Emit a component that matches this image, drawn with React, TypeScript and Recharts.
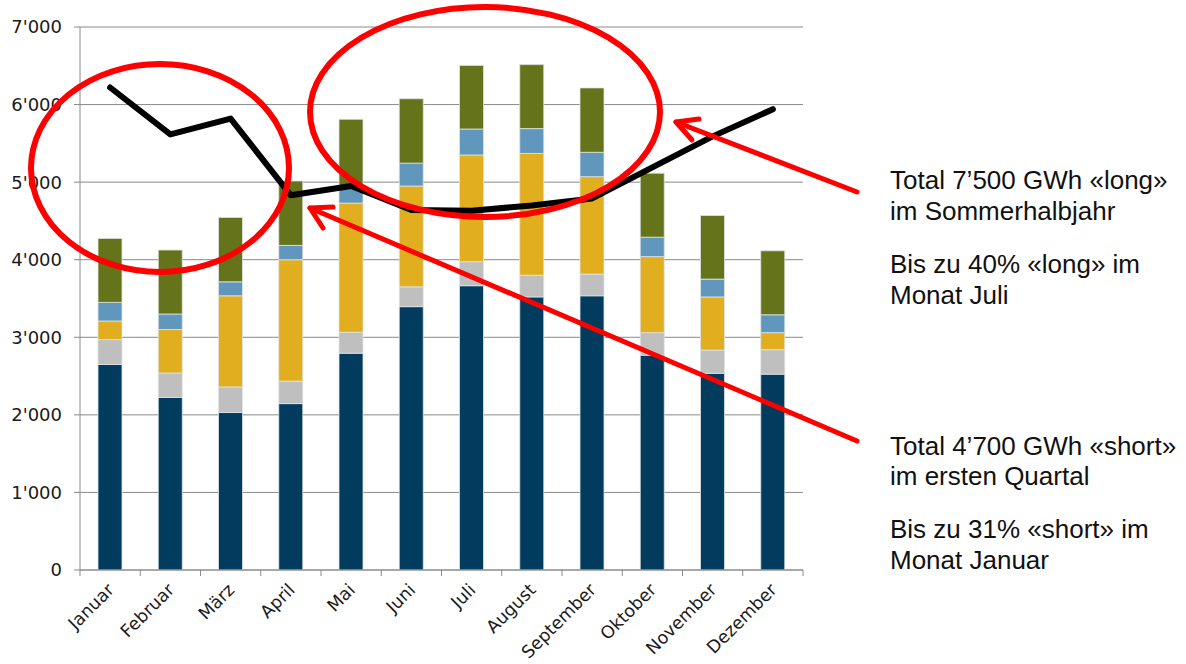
import React from "react";
import { ComposedChart, Bar, Line, XAxis, YAxis, CartesianGrid } from "recharts";

// ---- data ----
const months = ["Januar", "Februar", "März", "April", "Mai", "Juni", "Juli", "August", "September", "Oktober", "November", "Dezember"];
const serieNavy = [2650, 2225, 2030, 2145, 2795, 3395, 3665, 3520, 3535, 2770, 2535, 2525];
const serieGrau = [320, 315, 330, 290, 270, 255, 310, 280, 280, 290, 300, 315];
const serieGold = [240, 560, 1175, 1565, 1665, 1300, 1375, 1570, 1255, 980, 685, 220];
const serieBlau = [240, 200, 180, 185, 200, 295, 335, 320, 315, 250, 230, 230];
const serieGruen = [825, 825, 830, 830, 880, 830, 820, 825, 830, 825, 820, 825];
const verbrauch = [6220, 5615, 5820, 4830, 4950, 4640, 4630, 4700, 4790, 5190, 5590, 5940];

const yTicks = [0, 1000, 2000, 3000, 4000, 5000, 6000, 7000];
const yTickLabels = ["0", "1'000", "2'000", "3'000", "4'000", "5'000", "6'000", "7'000"];

const noteLong = ["Total 7\u2019500 GWh \u00ablong\u00bb", "im Sommerhalbjahr", "Bis zu 40% \u00ablong\u00bb im", "Monat Juli"];
const noteShort = ["Total 4\u2019700 GWh \u00abshort\u00bb", "im ersten Quartal", "Bis zu 31% \u00abshort\u00bb im", "Monat Januar"];

const data = months.map((m, i) => ({
  month: m,
  navy: serieNavy[i],
  grau: serieGrau[i],
  gold: serieGold[i],
  blau: serieBlau[i],
  gruen: serieGruen[i],
  verbrauch: verbrauch[i],
}));

// ---- layout ----
const W = 1186;
const H = 664;
const PLOT_LEFT = 80;
const PLOT_RIGHT = 803;
const PLOT_TOP = 27;
const AXIS_Y = 570;
const BAND = (PLOT_RIGHT - PLOT_LEFT) / months.length;
const GRID = "#8a8a8a";
const RED = "#ff0000";

const MonthTick = (props: any) => {
  const { x, payload, index } = props;
  const half = BAND / 2;
  const ax = x + 5;
  const ay = AXIS_Y + 21;
  return (
    <g>
      <line x1={x - half} y1={AXIS_Y} x2={x - half} y2={AXIS_Y + 6} stroke={GRID} strokeWidth={1} />
      {index === months.length - 1 && (
        <line x1={x + half} y1={AXIS_Y} x2={x + half} y2={AXIS_Y + 6} stroke={GRID} strokeWidth={1} />
      )}
      <text
        x={ax}
        y={ay}
        transform={`rotate(-45, ${ax}, ${ay})`}
        textAnchor="end"
        fontFamily="DejaVu Sans"
        fontSize={17.5}
        fill="#1a1a1a"
      >
        {payload.value}
      </text>
    </g>
  );
};

const barStroke = "#dfe3e6";

export default function App() {
  return (
    <div style={{ position: "absolute", left: 0, top: 0, width: W, height: H, background: "#fff" }}>
      <ComposedChart
        width={W}
        height={H}
        data={data}
        margin={{ top: PLOT_TOP, right: W - PLOT_RIGHT, bottom: 0, left: 0 }}
      >
        <CartesianGrid vertical={false} stroke={GRID} strokeWidth={1} />
        <XAxis
          dataKey="month"
          interval={0}
          tickLine={false}
          tickSize={0}
          tickMargin={0}
          axisLine={{ stroke: GRID, strokeWidth: 1 }}
          tick={<MonthTick />}
          height={H - AXIS_Y}
        />
        <YAxis
          width={PLOT_LEFT}
          domain={[0, 7000]}
          ticks={yTicks}
          interval={0}
          tickFormatter={(v: number) => yTickLabels[yTicks.indexOf(v)]}
          axisLine={{ stroke: GRID, strokeWidth: 1 }}
          tickLine={{ stroke: GRID, strokeWidth: 1 }}
          tickSize={6}
          tickMargin={12}
          tick={{ fontFamily: "DejaVu Sans", fontSize: 18, fill: "#1a1a1a" }}
        />
        <Bar dataKey="navy" stackId="a" fill="#013c5e" stroke={barStroke} strokeWidth={0.8} barSize={24} isAnimationActive={false} />
        <Bar dataKey="grau" stackId="a" fill="#bfbfbf" stroke={barStroke} strokeWidth={0.8} barSize={24} isAnimationActive={false} />
        <Bar dataKey="gold" stackId="a" fill="#e1ae20" stroke={barStroke} strokeWidth={0.8} barSize={24} isAnimationActive={false} />
        <Bar dataKey="blau" stackId="a" fill="#6197bc" stroke={barStroke} strokeWidth={0.8} barSize={24} isAnimationActive={false} />
        <Bar dataKey="gruen" stackId="a" fill="#65731b" stroke={barStroke} strokeWidth={0.8} barSize={24} isAnimationActive={false} />
        <Line
          dataKey="verbrauch"
          type="linear"
          stroke="#000"
          strokeWidth={6}
          dot={false}
          activeDot={false}
          strokeLinecap="round"
          strokeLinejoin="round"
          isAnimationActive={false}
        />
      </ComposedChart>
      <svg
        width={W}
        height={H}
        style={{ position: "absolute", left: 0, top: 0, pointerEvents: "none" }}
      >
        <ellipse cx={160} cy={168} rx={129} ry={104} fill="none" stroke={RED} strokeWidth={6} />
        <ellipse cx={485} cy={112} rx={175} ry={105} fill="none" stroke={RED} strokeWidth={6} />
        <g stroke={RED} strokeWidth={5} fill="none" strokeLinecap="round" strokeLinejoin="round">
          <line x1={857} y1={192} x2={676} y2={122} />
          <polyline points="699,119 676,122 692,140" />
          <line x1={857} y1={441} x2={310} y2={208} />
          <polyline points="333,207 310,208 323,228" />
        </g>
        <g fontFamily="Liberation Sans" fontSize={26} fill="#111">
          <text x={890} y={189}>{noteLong[0]}</text>
          <text x={890} y={220}>{noteLong[1]}</text>
          <text x={890} y={273}>{noteLong[2]}</text>
          <text x={890} y={304}>{noteLong[3]}</text>
          <text x={890} y={455}>{noteShort[0]}</text>
          <text x={890} y={485}>{noteShort[1]}</text>
          <text x={890} y={538}>{noteShort[2]}</text>
          <text x={890} y={569}>{noteShort[3]}</text>
        </g>
      </svg>
    </div>
  );
}
